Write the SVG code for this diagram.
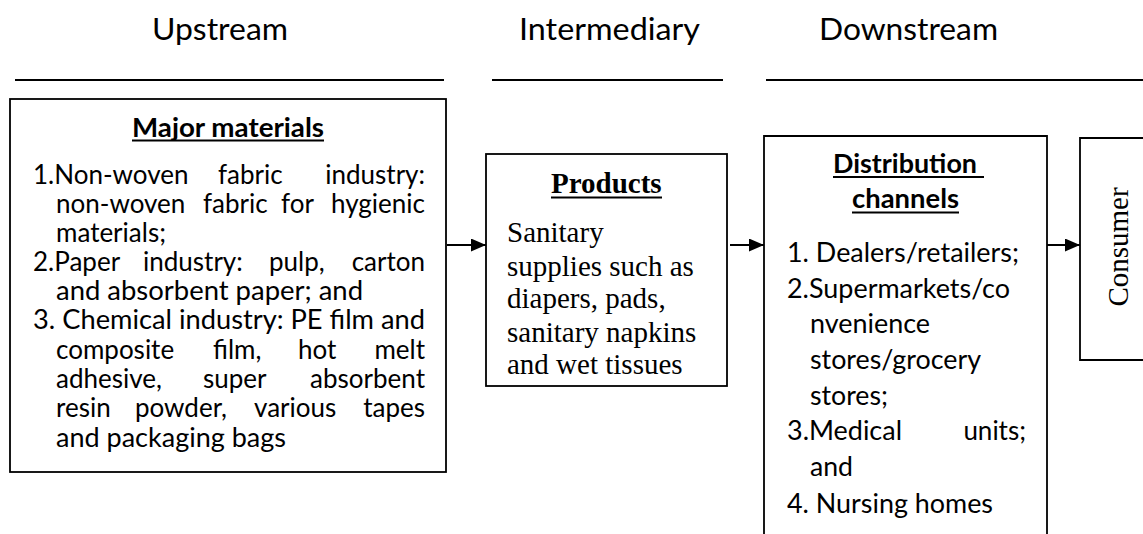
<svg xmlns="http://www.w3.org/2000/svg" width="1143" height="534" viewBox="0 0 1143 534">
<style>
.c{font-family:Lato,"Liberation Sans",sans-serif;font-size:26px;fill:#000}
.h{font-family:Lato,"Liberation Sans",sans-serif;font-size:30.5px;fill:#000}
.b{font-weight:bold}
.t{font-family:"Liberation Serif","Times New Roman",serif;font-size:29px;fill:#000}
.box{fill:#fff;stroke:#000;stroke-width:1.8}
.rule{stroke:#000;stroke-width:2}
.ul{stroke:#000;stroke-width:1.8}
.e{text-anchor:end}
</style>
<defs>
<marker id="ah" markerWidth="15" markerHeight="13" refX="15" refY="6.5" orient="auto" markerUnits="userSpaceOnUse">
<path d="M0,0 L15,6.5 L0,13 Z" fill="#000"/>
</marker>
</defs>
<rect width="1143" height="534" fill="#fff"/>
<g id="headers">
<text class="h" x="152" y="40" textLength="136" lengthAdjust="spacingAndGlyphs">Upstream</text>
<text class="h" x="519" y="40" textLength="181" lengthAdjust="spacingAndGlyphs">Intermediary</text>
<text class="h" x="819" y="40" textLength="179" lengthAdjust="spacingAndGlyphs">Downstream</text>
<line class="rule" x1="15" y1="80" x2="444" y2="80"/>
<line class="rule" x1="492" y1="80" x2="723" y2="80"/>
<line class="rule" x1="766" y1="80" x2="1143" y2="80"/>
</g>
<g id="upstream">
<rect class="box" x="10" y="99" width="436" height="373"/>
<text class="c b" x="132" y="137" textLength="192" lengthAdjust="spacingAndGlyphs">Major materials</text>
<line class="ul" x1="132" y1="140.5" x2="324" y2="140.5"/>
<text class="c" x="33" y="184">1.Non-woven</text>
<text class="c" x="218" y="184">fabric</text>
<text class="c e" x="425" y="184">industry:</text>
<text class="c" x="56" y="213">non-woven</text>
<text class="c" x="203" y="213">fabric</text>
<text class="c" x="281" y="213">for</text>
<text class="c e" x="425" y="213">hygienic</text>
<text class="c" x="56" y="242">materials;</text>
<text class="c" x="33" y="271">2.Paper</text>
<text class="c" x="143" y="271">industry:</text>
<text class="c" x="269" y="271">pulp,</text>
<text class="c e" x="425" y="271">carton</text>
<text class="c" x="56" y="300" textLength="307" lengthAdjust="spacingAndGlyphs">and absorbent paper; and</text>
<text class="c" x="33" y="329" textLength="392" lengthAdjust="spacingAndGlyphs">3. Chemical industry: PE film and</text>
<text class="c" x="56" y="359">composite</text>
<text class="c" x="213" y="359">film,</text>
<text class="c" x="298" y="359">hot</text>
<text class="c e" x="425" y="359">melt</text>
<text class="c" x="56" y="388">adhesive,</text>
<text class="c" x="203" y="388">super</text>
<text class="c e" x="425" y="388">absorbent</text>
<text class="c" x="56" y="417">resin</text>
<text class="c" x="135" y="417">powder,</text>
<text class="c" x="254" y="417">various</text>
<text class="c e" x="425" y="417">tapes</text>
<text class="c" x="56" y="447" textLength="230" lengthAdjust="spacingAndGlyphs">and packaging bags</text>
</g>
<g id="intermediary">
<rect class="box" x="486" y="154" width="241" height="232"/>
<text class="t b" x="551" y="193">Products</text>
<line class="ul" x1="551" y1="197.5" x2="662" y2="197.5"/>
<text class="t" x="507" y="242">Sanitary</text>
<text class="t" x="507" y="276">supplies such as</text>
<text class="t" x="507" y="308">diapers, pads,</text>
<text class="t" x="507" y="342">sanitary napkins</text>
<text class="t" x="507" y="374">and wet tissues</text>
</g>
<g id="downstream">
<path class="box" d="M764,540 V136 H1047 V540"/>
<text class="c b" x="833" y="173" textLength="144" lengthAdjust="spacingAndGlyphs">Distribution</text>
<line class="ul" x1="833" y1="177" x2="984" y2="177"/>
<text class="c b" x="852" y="208" textLength="107" lengthAdjust="spacingAndGlyphs">channels</text>
<line class="ul" x1="852" y1="212.5" x2="959" y2="212.5"/>
<text class="c" x="787" y="262" textLength="232" lengthAdjust="spacingAndGlyphs">1. Dealers/retailers;</text>
<text class="c" x="787" y="298" textLength="223" lengthAdjust="spacingAndGlyphs">2.Supermarkets/co</text>
<text class="c" x="810" y="333" textLength="120" lengthAdjust="spacingAndGlyphs">nvenience</text>
<text class="c" x="810" y="369" textLength="171" lengthAdjust="spacingAndGlyphs">stores/grocery</text>
<text class="c" x="810" y="405" textLength="78" lengthAdjust="spacingAndGlyphs">stores;</text>
<text class="c" x="787" y="440" textLength="115" lengthAdjust="spacingAndGlyphs">3.Medical</text>
<text class="c e" x="1026" y="440">units;</text>
<text class="c" x="810" y="476" textLength="43" lengthAdjust="spacingAndGlyphs">and</text>
<text class="c" x="787" y="513" textLength="206" lengthAdjust="spacingAndGlyphs">4. Nursing homes</text>
</g>
<g id="consumer">
<path class="box" d="M1150,138 H1080 V360 H1150"/>
<text class="t" transform="translate(1128,247) rotate(-90)" text-anchor="middle">Consumer</text>
</g>
<g id="connectors" stroke="#000" stroke-width="1.8">
<line x1="447" y1="245" x2="486" y2="245" marker-end="url(#ah)"/>
<line x1="730" y1="245" x2="764" y2="245" marker-end="url(#ah)"/>
<line x1="1047" y1="245" x2="1080" y2="245" marker-end="url(#ah)"/>
</g>
</svg>
